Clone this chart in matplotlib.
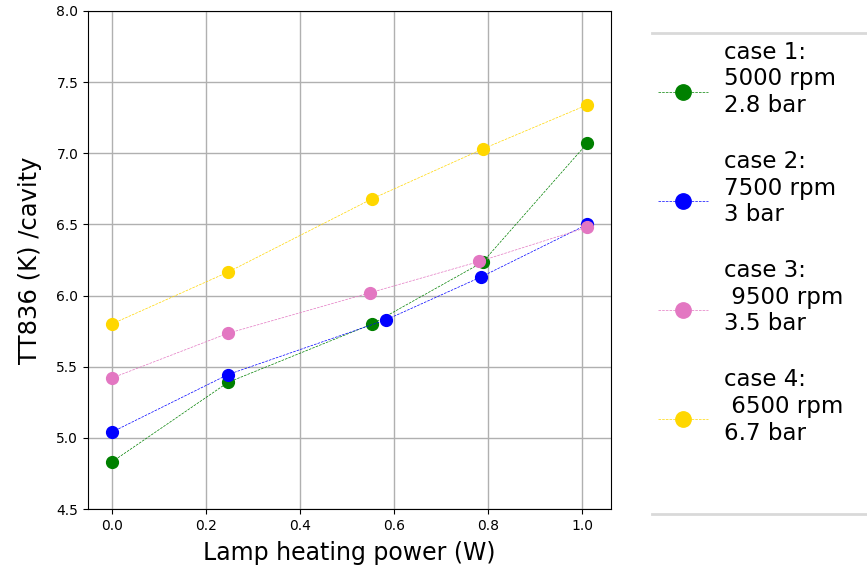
import matplotlib
matplotlib.use("Agg")
import numpy as np
import matplotlib.pyplot as plt
from matplotlib.lines import Line2D
from matplotlib.legend_handler import HandlerLine2D

x_case1 = [0.0, 0.247, 0.553, 0.788, 1.01]
y_case1 = [4.83, 5.39, 5.80, 6.235, 7.07]
x_case2 = [0.0, 0.247, 0.583, 0.784, 1.01]
y_case2 = [5.04, 5.445, 5.83, 6.13, 6.50]
x_case3 = [0.0, 0.247, 0.549, 0.781, 1.01]
y_case3 = [5.42, 5.735, 6.02, 6.24, 6.48]
x_case4 = [0.0, 0.247, 0.553, 0.788, 1.01]
y_case4 = [5.80, 6.165, 6.68, 7.03, 7.34]

labels = ["case 1:\n5000 rpm\n2.8 bar",
          "case 2:\n7500 rpm\n3 bar",
          "case 3:\n 9500 rpm\n3.5 bar",
          "case 4:\n 6500 rpm\n6.7 bar"]
colors = ["green", "blue", "#e377c2", "gold"]


class ShiftedHandler(HandlerLine2D):
    def __init__(self, shift, **kw):
        super().__init__(**kw)
        self._shift = shift

    def create_artists(self, legend, orig_handle, xdescent, ydescent,
                       width, height, fontsize, trans):
        arts = super().create_artists(legend, orig_handle, xdescent, ydescent,
                                      width, height, fontsize, trans)
        for a in arts:
            a.set_ydata(np.asarray(a.get_ydata()) - self._shift)
        return arts


fig = plt.figure(figsize=(8.67, 5.66), dpi=100)
ax = fig.add_axes([0.1015, 0.1007, 0.6032, 0.8799])

series = [(x_case1, y_case1), (x_case2, y_case2), (x_case3, y_case3), (x_case4, y_case4)]
handles = []
for (xs, ys), lab, c in zip(series, labels, colors):
    h, = ax.plot(xs, ys, linestyle='--', linewidth=0.5, color=c, marker='o',
                 markersize=8.5, label=lab)
    handles.append(h)

ax.set_ylim(4.5, 8.0)
ax.set_yticks([4.5, 5.0, 5.5, 6.0, 6.5, 7.0, 7.5, 8.0])
ax.set_xticks([0.0, 0.2, 0.4, 0.6, 0.8, 1.0])
ax.grid(True, color='#b0b0b0', linewidth=1)
ax.set_xlabel("Lamp heating power (W)", fontsize=17, labelpad=6)
ax.set_ylabel("TT836 (K) /cavity", fontsize=17.5, labelpad=10)

fig.legend(handles=handles, labels=labels, loc='upper left',
           bbox_to_anchor=(0.748, 0.944), frameon=False,
           fontsize=16.5, markerscale=1.3, handlelength=2.18, labelspacing=1.44,
           handletextpad=0.73, borderaxespad=0,
           handler_map={Line2D: ShiftedHandler(shift=8.6)})

fig.add_artist(Line2D([0.752, 1.0], [1 - 33/566, 1 - 33/566], color='#d9d9d9',
                      linewidth=2, transform=fig.transFigure))
fig.add_artist(Line2D([0.752, 1.0], [1 - 514/566, 1 - 514/566], color='#d9d9d9',
                      linewidth=2, transform=fig.transFigure))

fig.savefig("out.png", dpi=100)
